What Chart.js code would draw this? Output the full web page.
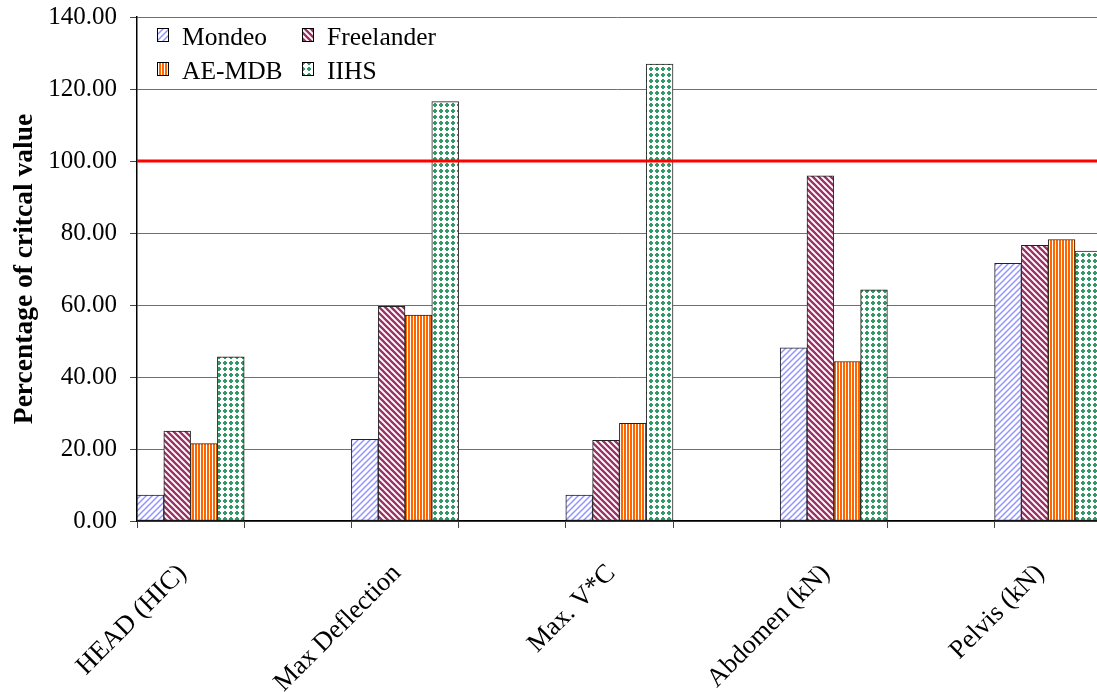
<!DOCTYPE html>
<html><head><meta charset="utf-8">
<script src="https://cdn.jsdelivr.net/npm/chart.js@4/dist/chart.umd.min.js"></script>
<style>html,body{margin:0;padding:0;background:#fff;overflow:hidden}#wrap{width:1097px;height:692px}</style>
</head><body><div id="wrap"><canvas id="c" width="1097" height="692"></canvas></div>
<script>
const categories = ['HEAD (HIC)', 'Max Deflection', 'Max. V*C', 'Abdomen (kN)', 'Pelvis (kN)'];
const seriesNames = ['Mondeo', 'Freelander', 'AE-MDB', 'IIHS'];
const mondeo     = [7.2, 22.7, 7.2, 48.1, 71.6];
const freelander = [25.0, 59.6, 22.4, 95.9, 76.6];
const aeMdb      = [21.5, 57.2, 27.1, 44.3, 78.2];
const iihs       = [45.6, 116.5, 126.9, 64.2, 75.0];
const yTicks = [0, 20, 40, 60, 80, 100, 120, 140];
const criticalLevel = 100;
const yTitle = 'Percentage of critcal value';

const SERIF = "'Liberation Serif', 'Times New Roman', serif";
const canvas = document.getElementById('c');
const ctx = canvas.getContext('2d');

function makePattern(size, draw) {
  const c = document.createElement('canvas');
  c.width = size; c.height = size;
  const g = c.getContext('2d');
  g.fillStyle = '#fff'; g.fillRect(0, 0, size, size);
  draw(g, size);
  return ctx.createPattern(c, 'repeat');
}
const pMondeo = makePattern(6, (g, s) => {
  g.strokeStyle = '#9494ff'; g.lineWidth = 1.5; g.beginPath();
  g.moveTo(-1, s + 1); g.lineTo(s + 1, -1);
  g.moveTo(-1, 1); g.lineTo(1, -1);
  g.moveTo(s - 1, s + 1); g.lineTo(s + 1, s - 1);
  g.stroke();
});
const pFree = makePattern(6, (g, s) => {
  g.strokeStyle = '#993366'; g.lineWidth = 2.3; g.beginPath();
  g.moveTo(-1, -1); g.lineTo(s + 1, s + 1);
  g.moveTo(-1, s - 1); g.lineTo(1, s + 1);
  g.moveTo(s - 1, -1); g.lineTo(s + 1, 1);
  g.stroke();
});
const pAe = makePattern(3, (g, s) => {
  g.fillStyle = '#ff6600'; g.fillRect(0, 0, 2, s);
});
const pIihs = makePattern(6, (g, s) => {
  g.fillStyle = '#339966';
  g.fillRect(1, 2, 4, 2); g.fillRect(2, 1, 2, 4);
});
const patterns = [pMondeo, pFree, pAe, pIihs];
const seriesValues = [mondeo, freelander, aeMdb, iihs];

const plotLeft = 137, plotRight = 1097;
const slotPx = 214.4;
const barPx = slotPx / 2 / seriesNames.length;
const xMin = -0.25;
const xMax = xMin + (plotRight - plotLeft) / slotPx;
const xTicks = [];
categories.forEach((c, i) => { [i - 0.25, i, i + 0.25].forEach(v => { if (v <= xMax + 1e-9) xTicks.push(v); }); });

const datasets = seriesNames.map((name, k) => ({
  label: name,
  data: seriesValues[k].map((v, i) => ({ x: i, y: v })),
  backgroundColor: patterns[k],
  borderColor: '#222',
  borderWidth: 1,
  borderSkipped: false,
  barThickness: barPx
}));

const redLine = {
  id: 'redLine',
  afterDatasetsDraw(chart) {
    const g = chart.ctx, a = chart.chartArea;
    const y = chart.scales.y.getPixelForValue(criticalLevel);
    g.save(); g.strokeStyle = '#ff0000'; g.lineWidth = 3;
    g.beginPath(); g.moveTo(a.left, y); g.lineTo(a.right, y); g.stroke(); g.restore();
  }
};
const legendBox = {
  id: 'legendBox',
  afterDraw(chart) {
    const g = chart.ctx;
    g.save();
    g.font = Chart.helpers.toFont({ family: SERIF, size: 25.5 }).string;
    g.textBaseline = 'alphabetic';
    g.textAlign = 'left';
    seriesNames.forEach((name, k) => {
      const col = k % 2, row = Math.floor(k / 2);
      const x = 157 + col * 145, yb = 45 + row * 34;
      g.fillStyle = patterns[k];
      g.fillRect(x, yb - 17, 12, 14);
      g.strokeStyle = '#000'; g.lineWidth = 1;
      g.strokeRect(x + 0.5, yb - 16.5, 11, 13);
      g.fillStyle = '#000';
      g.fillText(name, x + 25, yb);
    });
    g.restore();
  }
};

new Chart(ctx, {
  type: 'bar',
  data: { datasets },
  plugins: [redLine, legendBox],
  options: {
    responsive: false, animation: false, devicePixelRatio: 1,
    layout: { padding: { top: 17, right: 0, left: 0, bottom: 0 } },
    plugins: { legend: { display: false }, tooltip: { enabled: false } },
    scales: {
      x: {
        type: 'linear', min: xMin, max: xMax, offset: false,
        grid: {
          offset: false, drawOnChartArea: false, drawTicks: true, tickLength: 7,
          tickColor: (c) => (c.tick && Number.isInteger(c.tick.value)) ? 'rgba(0,0,0,0)' : '#444'
        },
        border: { display: true, color: '#000', width: 1.5 },
        ticks: {
          autoSkip: false, minRotation: 45, maxRotation: 45, padding: 30, labelOffset: -8,
          font: { family: SERIF, size: 26.5 }, color: '#000',
          callback: (v) => Number.isInteger(v) ? categories[v] : ''
        },
        afterBuildTicks: (s) => { s.ticks = xTicks.map(v => ({ value: v })); },
        afterFit: (s) => { s.height = 171; s.paddingLeft = 0; s.paddingRight = 0; }
      },
      y: {
        min: 0, max: 140,
        afterBuildTicks: (s) => { s.ticks = yTicks.map(v => ({ value: v })); },
        ticks: {
          callback: (v) => Number(v).toFixed(2),
          font: { family: SERIF, size: 25, lineHeight: 0.3 }, color: '#000', padding: 13
        },
        grid: { color: '#707070', lineWidth: 1, tickLength: 7, tickColor: '#444' },
        border: { color: '#000', width: 1.5 },
        title: {
          display: true, text: yTitle, color: '#000',
          font: { family: SERIF, size: 27.5, weight: 'bold' },
          padding: { top: 8, bottom: 0 }
        },
        afterFit: (s) => { s.width = 137; }
      }
    }
  }
});
</script>
</body></html>
